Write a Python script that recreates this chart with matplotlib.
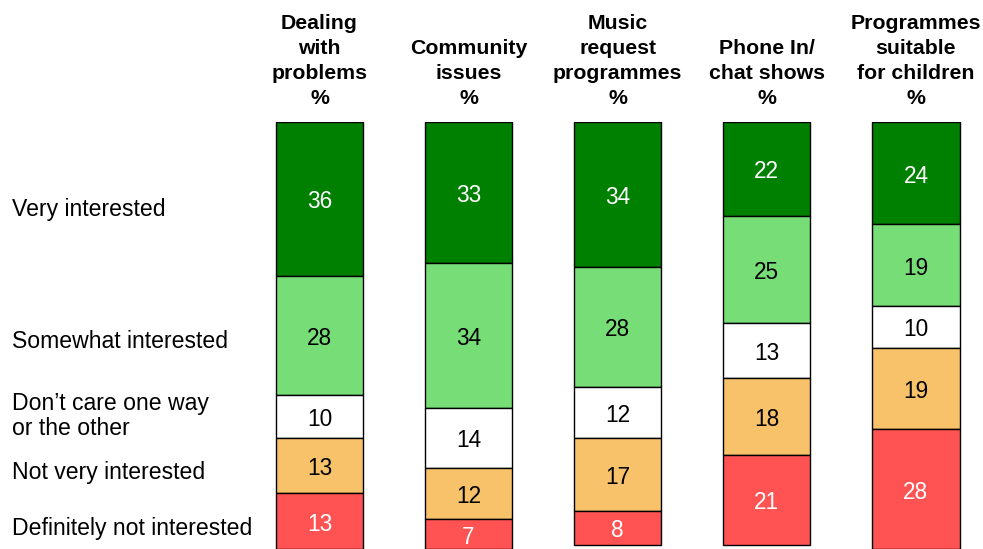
import matplotlib.pyplot as plt
import numpy as np

plt.rcParams['font.family'] = ['Liberation Sans', 'DejaVu Sans']

programmes = ['Dealing\nwith\nproblems\n%', 'Community\nissues\n%',
              'Music\nrequest\nprogrammes\n%', 'Phone In/\nchat shows\n%',
              'Programmes\nsuitable\nfor children\n%']
answers = ['Very interested', 'Somewhat interested',
           'Don\u2019t care one way\nor the other', 'Not very interested',
           'Definitely not interested']

very = [36, 33, 34, 22, 24]
somewhat = [28, 34, 28, 25, 19]
dont_care = [10, 14, 12, 13, 10]
not_very = [13, 12, 17, 18, 19]
definitely_not = [13, 7, 8, 21, 28]

colors = ['#008000', '#77DD77', '#FFFFFF', '#F8C26A', '#FF5252']
text_colors = ['white', 'black', 'black', 'black', 'white']

fig = plt.figure(figsize=(9.83, 5.49), dpi=100)
W, H = 983, 549
# axes: top of bars at 122px, 100% reaches the bottom edge
ax = fig.add_axes([200 / W, 0, 783 / W, 427 / H])
ax.set_xlim((200 - 319.5) / 149.1, (983 - 319.5) / 149.1)
ax.set_ylim(100, 0)
ax.axis('off')

x = np.arange(len(programmes))
bottom = np.zeros(len(programmes))
for vals, col, tcol in zip([very, somewhat, dont_care, not_very, definitely_not],
                           colors, text_colors):
    vals = np.array(vals)
    ax.bar(x, vals, bottom=bottom, width=0.585, color=col,
           edgecolor='black', linewidth=1.0, align='center')
    for xi, b, v in zip(x, bottom, vals):
        ax.text(xi, b + v / 2 + 0.7, str(v), ha='center', va='center',
                fontsize=16.3, color=tcol)
    bottom += vals

for xi, name in zip(x, programmes):
    ax.text(xi, 1 + 14 / 427, name, transform=ax.get_xaxis_transform(),
            ha='center', va='bottom', fontsize=15.3, fontweight='bold',
            linespacing=1.39)

label_y = [209, 341, 416, 472, 528]
for lab, yp in zip(answers, label_y):
    fig.text(12 / W, 1 - yp / H, lab, ha='left', va='center',
             fontsize=16.6, linespacing=1.08)

fig.savefig('out.png', dpi=100)
